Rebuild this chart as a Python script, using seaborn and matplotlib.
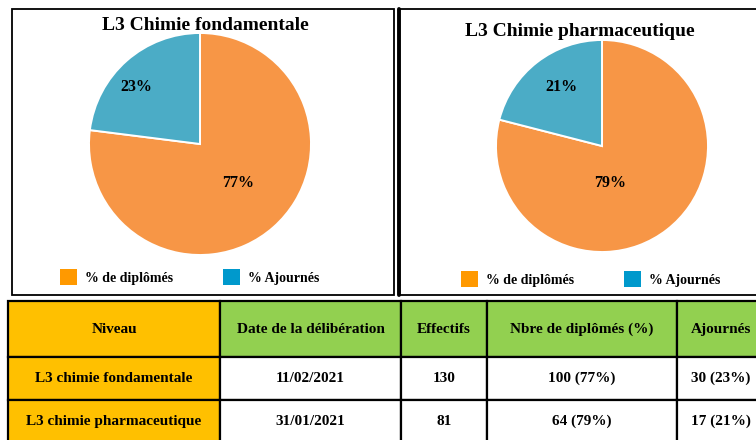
import numpy as np
import matplotlib
matplotlib.use("Agg")
import matplotlib.pyplot as plt
from matplotlib.patches import Rectangle, Patch
from matplotlib.lines import Line2D
import seaborn as sns

# data
pie_titles = ["L3 Chimie fondamentale", "L3 Chimie pharmaceutique"]
pie_labels = ["% de diplômés", "% Ajournés"]
pct_fondamentale = [77, 23]
pct_pharma = [79, 21]

table_header = ["Niveau", "Date de la délibération", "Effectifs",
                "Nbre de diplômés (%)", "Ajournés"]
niveaux = ["L3 chimie fondamentale", "L3 chimie pharmaceutique"]
dates = ["11/02/2021", "31/01/2021"]
effectifs = [130, 81]
diplomes = [100, 64]
ajournes = [30, 17]

# style
sns.set_style("white")
plt.rcParams["font.family"] = ["Liberation Serif", "DejaVu Serif"]
plt.rcParams["font.weight"] = "bold"
plt.rcParams["text.color"] = "black"

wedge_colors = ["#F79646", "#4BACC6"]
legend_colors = ["#FF9900", "#0099CC"]
gold = "#FFC000"
green = "#92D050"

W, H = 756, 440
fig = plt.figure(figsize=(W / 100, H / 100), dpi=100)


def px_axes(x0, y0, x1, y1):
    # pixel box (top-left origin) -> figure axes
    return fig.add_axes([x0 / W, 1 - y1 / H, (x1 - x0) / W, (y1 - y0) / H])


# panel frames
fig.add_artist(Rectangle((12 / W, 1 - 295 / H), (394 - 12) / W, (295 - 9) / H,
                         transform=fig.transFigure, fill=False, lw=1.3, ec="black"))
fig.add_artist(Rectangle((399 / W, 1 - 295 / H), (770 - 399) / W, (295 - 9) / H,
                         transform=fig.transFigure, fill=False, lw=1.3, ec="black"))
fig.add_artist(Line2D([399 / W, 399 / W], [1 - 295 / H, 1 - 9 / H],
                      transform=fig.transFigure, lw=2.8, color="black"))

# pies: (center x, center y, radius) in pixels, title pos, label polar positions
pies = [
    dict(vals=pct_fondamentale, cx=200, cy=144, r=111, title_xy=(205, 25),
         lab=[(0.49, -45.5), (0.77, 138.5)], leg_xy=(190, 277)),
    dict(vals=pct_pharma, cx=602, cy=146, r=106, title_xy=(580, 32),
         lab=[(0.36, -77), (0.675, 124.7)], leg_xy=(591, 279)),
]

for title, p in zip(pie_titles, pies):
    ax = px_axes(p["cx"] - p["r"], p["cy"] - p["r"], p["cx"] + p["r"], p["cy"] + p["r"])
    wedges, _, autotexts = ax.pie(
        p["vals"], colors=wedge_colors, startangle=90, counterclock=False,
        autopct="%d%%", radius=1,
        wedgeprops=dict(edgecolor="white", linewidth=1.4),
        textprops=dict(fontsize=11.5, fontweight="bold", color="black"))
    for t, (d, a) in zip(autotexts, p["lab"]):
        t.set_position((d * np.cos(np.radians(a)), d * np.sin(np.radians(a))))
    ax.set_xlim(-1, 1)
    ax.set_ylim(-1, 1)
    ax.set_aspect("equal")
    ax.axis("off")

    fig.text(p["title_xy"][0] / W, 1 - p["title_xy"][1] / H, title,
             ha="center", va="center", fontsize=14, fontweight="bold", color="black")

    handles = [Patch(facecolor=c, edgecolor="none") for c in legend_colors]
    leg = fig.legend(handles, pie_labels, loc="center", ncol=2, frameon=False,
                     bbox_to_anchor=(p["leg_xy"][0] / W, 1 - p["leg_xy"][1] / H),
                     bbox_transform=fig.transFigure, fontsize=10,
                     handlelength=1.2, handleheight=1.5, handletextpad=0.6,
                     columnspacing=3.6, borderpad=0, borderaxespad=0)
    for t in leg.get_texts():
        t.set_color("black")

# table
cell_text = [table_header]
for n, d, e, dp, aj in zip(niveaux, dates, effectifs, diplomes, ajournes):
    cell_text.append([n, d, str(e),
                      f"{dp} ({round(100 * dp / e)}%)",
                      f"{aj} ({round(100 * aj / e)}%)"])

col_px = [212, 181, 86, 190, 88]
row_px = [56, 43, 43]

tax = px_axes(8, 301, 8 + sum(col_px), 301 + sum(row_px))
tax.axis("off")
tbl = tax.table(cellText=cell_text, cellLoc="center", bbox=[0, 0, 1, 1],
                colWidths=[c / sum(col_px) for c in col_px])
tbl.auto_set_font_size(False)
for (r, c), cell in tbl.get_celld().items():
    cell.set_height(row_px[r])
    cell.set_linewidth(1.6)
    cell.set_edgecolor("black")
    if c == 0:
        cell.set_facecolor(gold)
    elif r == 0:
        cell.set_facecolor(green)
    else:
        cell.set_facecolor("white")
    cell.get_text().set_fontsize(11)
    cell.get_text().set_fontweight("bold")
    cell.get_text().set_color("black")

fig.savefig("out.png", dpi=100)
